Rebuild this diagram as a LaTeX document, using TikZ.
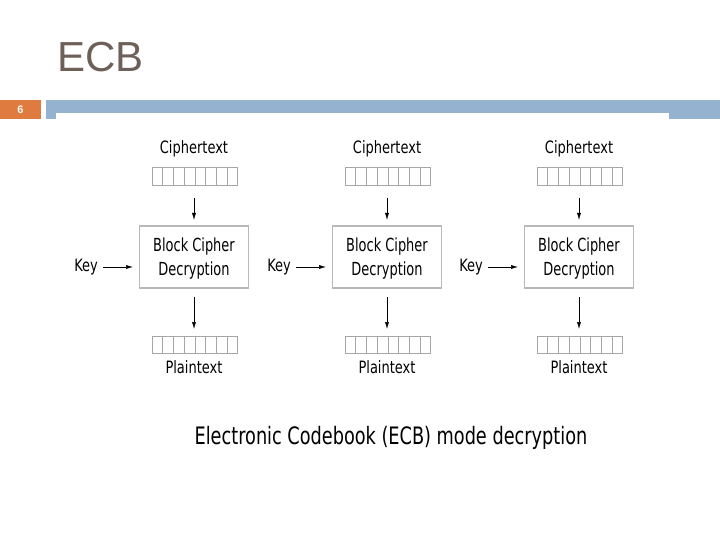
\documentclass[tikz,border=0pt]{standalone}
\usepackage{fontspec}
\setmainfont[FakeStretch=0.85]{DejaVu Sans Condensed}
\newfontfamily\narrowfont[FakeStretch=0.8]{DejaVu Sans Condensed}
\newfontfamily\captionfont[FakeStretch=0.82]{DejaVu Sans Condensed}
\newfontfamily\titlefont{Liberation Sans}
\usetikzlibrary{arrows.meta,calc}
\definecolor{titlecol}{HTML}{6E5F58}
\definecolor{orangebar}{HTML}{E07B40}
\definecolor{bluebar}{HTML}{95B3D0}
\tikzset{
  lbl/.style={font=\fontsize{17}{19}\selectfont, inner sep=0pt, anchor=base},
  blockbox/.style={draw=gray!55, line width=1.2pt, fill=white, minimum width=109pt, minimum height=62pt},
  boxtxt/.style={font=\narrowfont\fontsize{18}{20}\selectfont, inner sep=0pt, anchor=base},
  cell/.style={draw=gray!70, line width=0.5pt},
  arr/.style={-{Latex[length=7pt,width=4pt]}, line width=0.5pt},
}
\begin{document}
\begin{tikzpicture}[x=1pt,y=-1pt]
\useasboundingbox (0,0) rectangle (720,540);
\fill[white] (0,0) rectangle (720,540);
% header
\node[anchor=base west, inner sep=0pt, text=titlecol, font=\titlefont\fontsize{42}{46}\selectfont] (title) at (57,72) {ECB};
\fill[orangebar] (0,100) rectangle (41,119);
\node[text=white, font=\titlefont\bfseries\fontsize{11}{12}\selectfont] (num) at (20.5,109.5) {6};
\fill[bluebar] (46,100) rectangle (720,119);
\fill[white] (56,113) rectangle (669,120);
% columns
\foreach \cx/\n in {194/a,387/b,579/c}{
  \node[lbl] (ct\n) at (\cx,154) {Ciphertext};
  \foreach \i in {0,...,7}{
    \draw[cell] (\cx-42+\i*10.7,167) rectangle (\cx-42+\i*10.7+10.7,185);
    \draw[cell] (\cx-42+\i*10.7,336) rectangle (\cx-42+\i*10.7+10.7,353);
  }
  \coordinate (ctr\n) at (\cx,198);
  \coordinate (ptr\n) at (\cx,329);
  \coordinate (kin\n) at (\cx-61,267);
  \coordinate (tin\n) at (\cx,220);
  \coordinate (bout\n) at (\cx,297);
  \node[blockbox] (bc\n) at (\cx,257) {};
  \node[boxtxt] (bt\n) at (\cx,251.7) {Block Cipher};
  \node[boxtxt] (bd\n) at (\cx,275) {Decryption};
  \node[lbl] (pt\n) at (\cx,373) {Plaintext};
  \node[lbl, anchor=base east] (key\n) at (\cx-96,271.5) {Key};
  \coordinate (kout\n) at (\cx-91,267);
  \draw[arr] (ctr\n) -- (tin\n);
  \draw[arr] (bout\n) -- (ptr\n);
  \draw[arr] (kout\n) -- (kin\n);
}
\node[font=\captionfont\fontsize{24}{28}\selectfont, inner sep=0pt, anchor=base] (caption) at (391,444.7) {Electronic Codebook (ECB) mode decryption};
\end{tikzpicture}
\end{document}
